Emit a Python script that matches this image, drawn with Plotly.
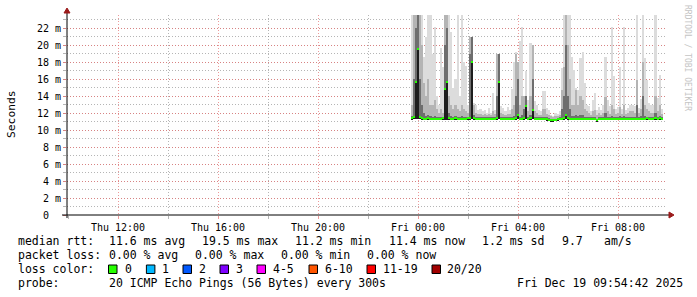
import plotly.graph_objects as go
import pandas as pd

# ---------------- data (5-minute steps, 20 pings each) ----------------
step_start = "2025-12-18 23:45:00"
n_steps = 121
times = pd.date_range(step_start, periods=n_steps, freq="5min")

# lowest ping per step (ms)
ping_lo = [
    11.25, 11.3, 11.3, 11.3, 11.25, 11.2, 11.2, 11.2, 11.2, 11.2,
    11.2, 11.2, 11.2, 11.2, 11.2, 11.2, 11.2, 11.2, 11.2, 11.2,
    11.2, 11.2, 11.2, 11.2, 11.2, 11.2, 11.2, 11.2, 11.25, 11.3,
    11.2, 11.2, 11.2, 11.2, 11.2, 11.2, 11.2, 11.2, 11.2, 11.2,
    11.2, 11.2, 11.3, 11.2, 11.2, 11.2, 11.2, 11.2, 11.2, 11.2,
    11.2, 11.25, 11.2, 11.2, 11.2, 11.25, 11.2, 11.2, 11.25, 11.2,
    11.2, 11.2, 11.2, 11.2, 11.2, 11.15, 11.1, 11.05, 11.05, 11.1,
    11.15, 11.2, 11.2, 11.2, 11.25, 11.2, 11.2, 11.2, 11.2, 11.2,
    11.2, 11.2, 11.2, 11.2, 11.2, 11.2, 11.2, 11.2, 11.2, 11.05,
    11.2, 11.2, 11.2, 11.2, 11.2, 11.2, 11.2, 11.2, 11.2, 11.2,
    11.2, 11.2, 11.2, 11.2, 11.2, 11.2, 11.2, 11.2, 11.2, 11.2,
    11.2, 11.2, 11.2, 11.2, 11.2, 11.2, 11.2, 11.2, 11.2, 11.2,
    11.2,
]
# median ping per step (ms)
ping_med = [
    11.4, 11.5, 15.7, 19.5, 11.5, 11.4, 11.35, 11.35, 11.4, 11.35,
    11.35, 11.35, 11.35, 11.35, 11.35, 11.4, 14.8, 15.6, 11.45, 11.35,
    11.35, 11.45, 11.35, 11.35, 11.35, 11.35, 11.35, 11.45, 11.45, 18.0,
    11.45, 11.35, 11.35, 11.35, 11.35, 11.35, 11.35, 11.35, 11.35, 11.35,
    11.35, 11.4, 15.7, 11.35, 11.35, 11.35, 11.35, 11.35, 11.35, 11.35,
    11.45, 11.8, 11.35, 11.35, 11.4, 12.8, 11.35, 11.4, 12.4, 11.35,
    11.35, 11.35, 11.35, 11.35, 11.35, 11.3, 11.2, 11.15, 11.15, 11.2,
    11.3, 11.35, 11.35, 11.4, 11.8, 11.45, 11.35, 11.35, 11.35, 11.35,
    11.35, 11.35, 11.35, 11.35, 11.35, 11.35, 11.35, 11.35, 11.35, 11.15,
    11.35, 11.35, 11.35, 11.35, 11.35, 11.35, 11.35, 11.35, 11.35, 11.35,
    11.35, 11.35, 11.35, 11.35, 11.35, 11.35, 11.35, 11.35, 11.35, 11.35,
    11.35, 11.35, 11.35, 11.4, 11.35, 11.35, 11.35, 11.4, 11.35, 11.4,
    11.35,
]
# upper-quartile ping per step (ms)
ping_p75 = [
    11.6, 16, 22, 25, 16, 13, 12.0, 11.6, 11.8, 11.6,
    11.5, 11.6, 11.5, 11.5, 11.5, 11.5, 20, 22, 12, 11.6,
    11.5, 11.6, 11.5, 11.5, 11.6, 11.5, 11.5, 11.5, 19, 21,
    11.8, 11.5, 11.5, 11.5, 11.5, 11.5, 11.5, 11.5, 11.5, 11.5,
    11.5, 14, 19, 11.5, 11.5, 11.5, 11.5, 11.5, 11.5, 11.6,
    14, 16, 11.5, 11.8, 12.5, 14, 11.5, 11.8, 16, 11.5,
    11.5, 11.5, 11.5, 11.5, 11.5, 11.5, 11.4, 11.3, 11.3, 11.3,
    11.4, 11.5, 12.5, 14, 20, 14, 12.5, 11.6, 11.6, 11.8,
    11.6, 11.8, 11.8, 11.5, 11.5, 11.5, 11.5, 11.5, 11.5, 11.3,
    11.5, 11.5, 11.5, 12.0, 11.5, 11.5, 11.6, 11.5, 11.5, 11.5,
    11.6, 11.5, 11.6, 11.5, 11.5, 11.5, 11.5, 11.5, 13, 11.5,
    11.6, 14, 11.6, 11.5, 11.5, 11.5, 11.5, 12, 11.5, 11.6,
    11.5,
]
# 90th-percentile ping per step (ms)
ping_p90 = [
    13, 25, 25, 25, 25, 20, 15.5, 14, 16, 13,
    13, 13.5, 12.5, 12, 12.5, 12, 25, 25, 14, 13,
    12.5, 13, 12.5, 12.2, 13, 12.5, 12.2, 12, 21, 21,
    13, 12, 11.9, 11.9, 11.8, 11.9, 11.8, 11.9, 11.8, 12.2,
    11.9, 19, 19, 12, 11.9, 11.8, 11.9, 11.9, 12.5, 13,
    19, 18, 13, 14, 14, 14, 12.2, 14, 20, 12.2,
    12, 11.8, 11.8, 12.5, 12.5, 11.9, 11.8, 11.6, 11.5, 11.6,
    11.6, 11.8, 14.7, 17.4, 24, 20, 16, 13, 13, 14.7,
    13, 14, 13.5, 12.5, 12.2, 12, 11.8, 12.2, 12.3, 11.8,
    12, 11.8, 12, 13.9, 12.2, 11.9, 13, 12.5, 11.9, 12,
    12.7, 11.9, 13, 11.9, 12, 12.2, 12.2, 12, 15.9, 12,
    12.5, 18, 13, 12.5, 12.2, 12, 12, 14, 12.2, 13,
    11.9,
]
# highest ping per step (ms)
ping_max = [
    25, 25, 25, 25, 25, 25, 18.6, 20.9, 25, 23.5,
    19, 22.1, 14, 13, 19.6, 17.4, 25, 25, 25, 21.5,
    15, 16, 24.5, 14, 24, 18, 17.5, 13, 21, 21,
    13.2, 13, 12.3, 12.5, 12.2, 12.4, 12.0, 12.6, 12.0, 14.3,
    12.3, 19, 19, 12.8, 12.6, 12.2, 12.7, 12.4, 14.8, 18,
    19.2, 18, 20.5, 22.1, 14, 17, 13.5, 20.2, 20, 13.4,
    13, 12.3, 12.2, 14.6, 14.6, 12.6, 12.4, 11.8, 11.7, 12.0,
    11.9, 12.2, 17.3, 24, 25, 25, 25, 18.6, 17.1, 15,
    14.7, 18.5, 19.2, 15.5, 13, 12.8, 12.2, 13.5, 14.3, 12.3,
    12.7, 12.4, 13, 18.6, 13.5, 12.8, 22.1, 16.3, 12.5, 12.7,
    17.4, 12.5, 22.1, 12.4, 12.6, 13, 13, 12.8, 25, 12.6,
    13.6, 25, 18.5, 15.9, 13.2, 12.9, 12.9, 25, 13.8, 16.5,
    12.5,
]

y_tick_vals = [0, 2, 4, 6, 8, 10, 12, 14, 16, 18, 20, 22]
y_tick_text = ["0\u00a0\u00a0", "2 m", "4 m", "6 m", "8 m", "10 m", "12 m",
               "14 m", "16 m", "18 m", "20 m", "22 m"]

legend_rows = [
    ["median rtt:", "11.6 ms avg", "19.5 ms max", "11.2 ms min", "11.4 ms now", "1.2 ms sd", "9.7", "am/s"],
    ["packet loss:", "0.00 % avg", "0.00 % max", "0.00 % min", "0.00 % now"],
    ["probe:", "20 ICMP Echo Pings (56 Bytes) every 300s"],
]
loss_labels = ["0", "1", "2", "3", "4-5", "6-10", "11-19", "20/20"]
loss_colors = ["#26ff00", "#00b8ff", "#0059ff", "#7e00ff", "#ff00ff", "#ff5500", "#ff0000", "#a10000"]
stamp = "Fri Dec 19 09:54:42 2025"

# ---------------- geometry helpers (plot area in pixels) ----------------
PL, PR, PT, PB = 67, 667, 15, 215
W, H = 697, 297


def px(p):
    return (p - PL) / (PR - PL)


def py(p):
    return (PB - p) / (PB - PT)


STEP_MS = 300000
fig = go.Figure()


def band(top, bottom, color):
    fig.add_trace(go.Bar(
        x=times, base=bottom, y=[t - b for t, b in zip(top, bottom)],
        width=STEP_MS, marker=dict(color=color, line=dict(width=0)),
        hoverinfo="skip", showlegend=False))


band(ping_max, ping_lo, "#dcdcdc")
band(ping_p90, ping_lo, "#b4b4b4")
band(ping_p75, ping_lo, "#6e6e6e")
band(ping_med, ping_lo, "#1e1e1e")
# median marker (loss colour 0)
fig.add_trace(go.Bar(
    x=times, base=[m - 0.12 for m in ping_med], y=[0.24] * len(ping_med),
    width=STEP_MS, marker=dict(color=loss_colors[0], line=dict(width=0)),
    hoverinfo="skip", showlegend=False))

MAJ = "rgba(230,110,110,0.7)"
MIN = "rgba(120,120,120,0.55)"
DOTS = "1px,2px"
FONT = "DejaVu Sans Mono"

fig.update_layout(
    width=W, height=H,
    margin=dict(l=PL, r=W - PR, t=PT, b=H - PB, pad=0),
    paper_bgcolor="white", plot_bgcolor="white",
    barmode="overlay", bargap=0, showlegend=False,
    font=dict(family=FONT, size=10, color="black"),
    xaxis=dict(
        type="date",
        range=["2025-12-18 09:57:36", "2025-12-19 09:57:36"],
        tickmode="linear", tick0="2025-12-18 00:00:00", dtick=4 * 3600 * 1000,
        tickformat="%a %H:%M",
        showgrid=True, gridcolor=MAJ, griddash=DOTS, gridwidth=1,
        ticks="outside", ticklen=3, tickcolor=MAJ, tickwidth=1,
        minor=dict(tick0="2025-12-18 00:00:00", dtick=2 * 3600 * 1000,
                   showgrid=True, gridcolor=MIN, griddash=DOTS, gridwidth=1,
                   ticks="outside", ticklen=3, tickcolor=MIN),
        showline=False, zeroline=False, fixedrange=True,
        tickfont=dict(family=FONT, size=10, color="black"),
    ),
    yaxis=dict(
        range=[0, 200 / 8.5],
        tickmode="array", tickvals=y_tick_vals, ticktext=y_tick_text,
        showgrid=True, gridcolor=MAJ, griddash=DOTS, gridwidth=1,
        ticks="outside", ticklen=3, tickcolor=MAJ, tickwidth=1,
        minor=dict(tickmode="linear", tick0=0, dtick=1,
                   showgrid=True, gridcolor=MIN, griddash=DOTS, gridwidth=1,
                   ticks="outside", ticklen=3, tickcolor=MIN),
        showline=False, zeroline=False, fixedrange=True,
        tickfont=dict(family=FONT, size=10, color="black"),
    ),
)

ARROW = "#9b1b1b"
shapes = [
    # y axis line
    dict(type="line", xref="paper", yref="paper", x0=px(67), x1=px(67), y0=py(218), y1=py(12),
         line=dict(color="black", width=1)),
    # x axis line
    dict(type="line", xref="paper", yref="paper", x0=px(62), x1=px(671), y0=py(215), y1=py(215),
         line=dict(color="black", width=1)),
    # arrow heads
    dict(type="path", xref="paper", yref="paper",
         path=f"M {px(64)} {py(13)} L {px(70)} {py(13)} L {px(67)} {py(8)} Z",
         fillcolor=ARROW, line=dict(color=ARROW, width=1)),
    dict(type="path", xref="paper", yref="paper",
         path=f"M {px(669)} {py(212)} L {px(669)} {py(218)} L {px(674)} {py(215)} Z",
         fillcolor=ARROW, line=dict(color=ARROW, width=1)),
]

annotations = []


def text(x, y, s, size=11.5, color="black", anchor="left", angle=0, family=FONT):
    annotations.append(dict(
        xref="paper", yref="paper", x=px(x), y=py(y), text=s, showarrow=False,
        xanchor=anchor, yanchor="middle", textangle=angle, borderpad=0,
        font=dict(family=family, size=size, color=color)))


# axis title and watermark
text(11, 114, "Seconds", size=11.3, anchor="center", angle=-90)
text(687, 58, "RRDTOOL / TOBI OETIKER", size=8, color="#c4c4c4", anchor="center", angle=90)

# legend rows
row1_x = [16.5, 108, 201, 294, 387.5, 481, 561, 603]
for s, x in zip(legend_rows[0], row1_x):
    text(x, 241, s)
row2_x = [16.5, 108, 194, 280, 366]
for s, x in zip(legend_rows[1], row2_x):
    text(x, 255, s)
text(16.5, 269, "loss color:")
box_x = [108.5, 146.4, 183, 220, 257, 309, 367, 432]
lab_x = [124, 160.7, 198, 235, 272, 324, 382, 446.5]
for lab, col, bx, lx in zip(loss_labels, loss_colors, box_x, lab_x):
    shapes.append(dict(type="rect", xref="paper", yref="paper",
                       x0=px(bx), x1=px(bx + 8.5), y0=py(273.5), y1=py(265),
                       fillcolor=col, line=dict(color="black", width=1)))
    text(lx, 269, lab)
row4_x = [16.5, 108]
for s, x in zip(legend_rows[2], row4_x):
    text(x, 283, s)
text(515.6, 283, stamp)

fig.update_layout(shapes=shapes, annotations=annotations)
fig.write_html("out.html")
